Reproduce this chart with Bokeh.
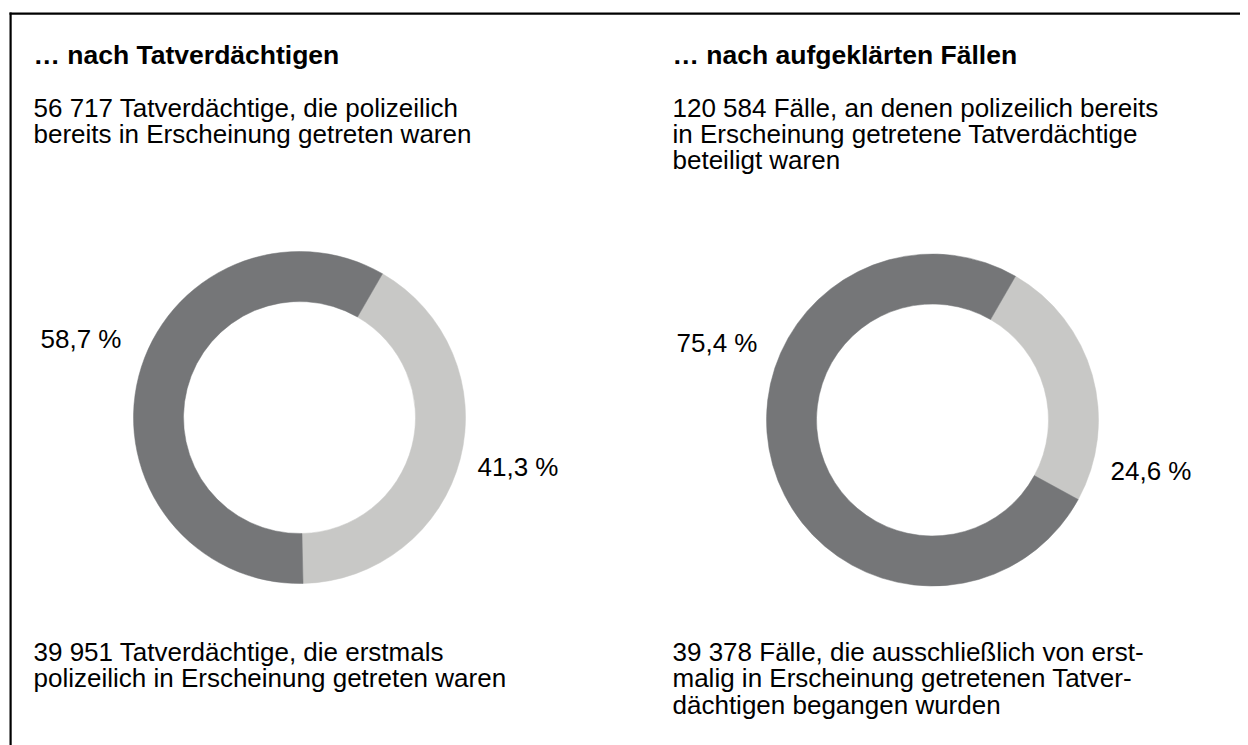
import math
from bokeh.plotting import figure
from bokeh.models import Range1d, ColumnDataSource
from bokeh.core.properties import value
from bokeh.embed import file_html
from bokeh.resources import INLINE

# ---------------- data ----------------
titles = ["… nach Tatverdächtigen", "… nach aufgeklärten Fällen"]
top_texts = [
    ["56 717 Tatverdächtige, die polizeilich",
     "bereits in Erscheinung getreten waren"],
    ["120 584 Fälle, an denen polizeilich bereits",
     "in Erscheinung getretene Tatverdächtige",
     "beteiligt waren"],
]
bottom_texts = [
    ["39 951 Tatverdächtige, die erstmals",
     "polizeilich in Erscheinung getreten waren"],
    ["39 378 Fälle, die ausschließlich von erst-",
     "malig in Erscheinung getretenen Tatver-",
     "dächtigen begangen wurden"],
]
repeat_counts = [56717, 120584]   # dark slices
first_counts = [39951, 39378]     # light slices
repeat_labels = ["58,7 %", "75,4 %"]
first_labels = ["41,3 %", "24,6 %"]

# ---------------- layout ----------------
W, H = 1240, 745
def X(px):
    return px
def Y(py):
    return H - py

DARK = "#757678"
LIGHT = "#c8c8c6"
FONT = value("Liberation Sans")
SIZE = value("26px")
TSIZE = value("26.5px")

col_x = [33, 672]
title_base = 54
top_base = [107, 133.3, 159.6]
bot_base = [651.5, 677.8, 704.1]
centers = [(299, 417), (932, 419.5)]
R_OUT, R_IN = 166, 116
start_deg = 60.0
dark_lab = [(40, 338.5), (676, 342)]
light_lab = [(477, 466.5), (1110, 470.5)]

p = figure(width=W, height=H, output_backend="svg", toolbar_location=None,
           x_range=Range1d(0, W), y_range=Range1d(0, H), min_border=0,
           background_fill_color="white", border_fill_color="white")
p.outline_line_color = None
p.axis.visible = False
p.xgrid.visible = False
p.ygrid.visible = False

# frame (top and left edges of the surrounding box)
p.quad(left=[9, 9], right=[11.2, W], top=[Y(12), Y(12)], bottom=[0, Y(14.2)],
       fill_color="black", line_color=None)

# donuts
wx, wy, ws, we, wc = [], [], [], [], []
for i in range(2):
    total = repeat_counts[i] + first_counts[i]
    f_light = first_counts[i] / total
    a0 = math.radians(start_deg)
    cx, cy = X(centers[i][0]), Y(centers[i][1])
    # light slice
    wx.append(cx); wy.append(cy)
    ws.append(a0 - f_light * 2 * math.pi); we.append(a0); wc.append(LIGHT)
    # dark slice
    wx.append(cx); wy.append(cy)
    ws.append(a0); we.append(a0 + (1 - f_light) * 2 * math.pi); wc.append(DARK)
src = ColumnDataSource(dict(x=wx, y=wy, s=ws, e=we, c=wc))
p.annular_wedge(x="x", y="y", inner_radius=R_IN, outer_radius=R_OUT,
                start_angle="s", end_angle="e", fill_color="c",
                line_color="c", line_width=0.5, source=src)

# texts
tx, ty, tt = [], [], []
for i in range(2):
    for j, line in enumerate(top_texts[i]):
        tx.append(X(col_x[i])); ty.append(Y(top_base[j])); tt.append(line)
    for j, line in enumerate(bottom_texts[i]):
        tx.append(X(col_x[i])); ty.append(Y(bot_base[j])); tt.append(line)
    tx.append(X(dark_lab[i][0])); ty.append(Y(dark_lab[i][1])); tt.append(repeat_labels[i])
    tx.append(X(light_lab[i][0])); ty.append(Y(light_lab[i][1])); tt.append(first_labels[i])
p.text(x=tx, y=ty, text=tt, text_font=FONT, text_font_size=SIZE,
       text_color="black", text_baseline="alphabetic", text_align="left")

p.text(x=[X(c) for c in col_x], y=[Y(title_base)] * 2, text=titles,
       text_font=FONT, text_font_size=TSIZE, text_font_style="bold",
       text_color="black", text_baseline="alphabetic", text_align="left")

open("out.html", "w").write(file_html(p, INLINE))
